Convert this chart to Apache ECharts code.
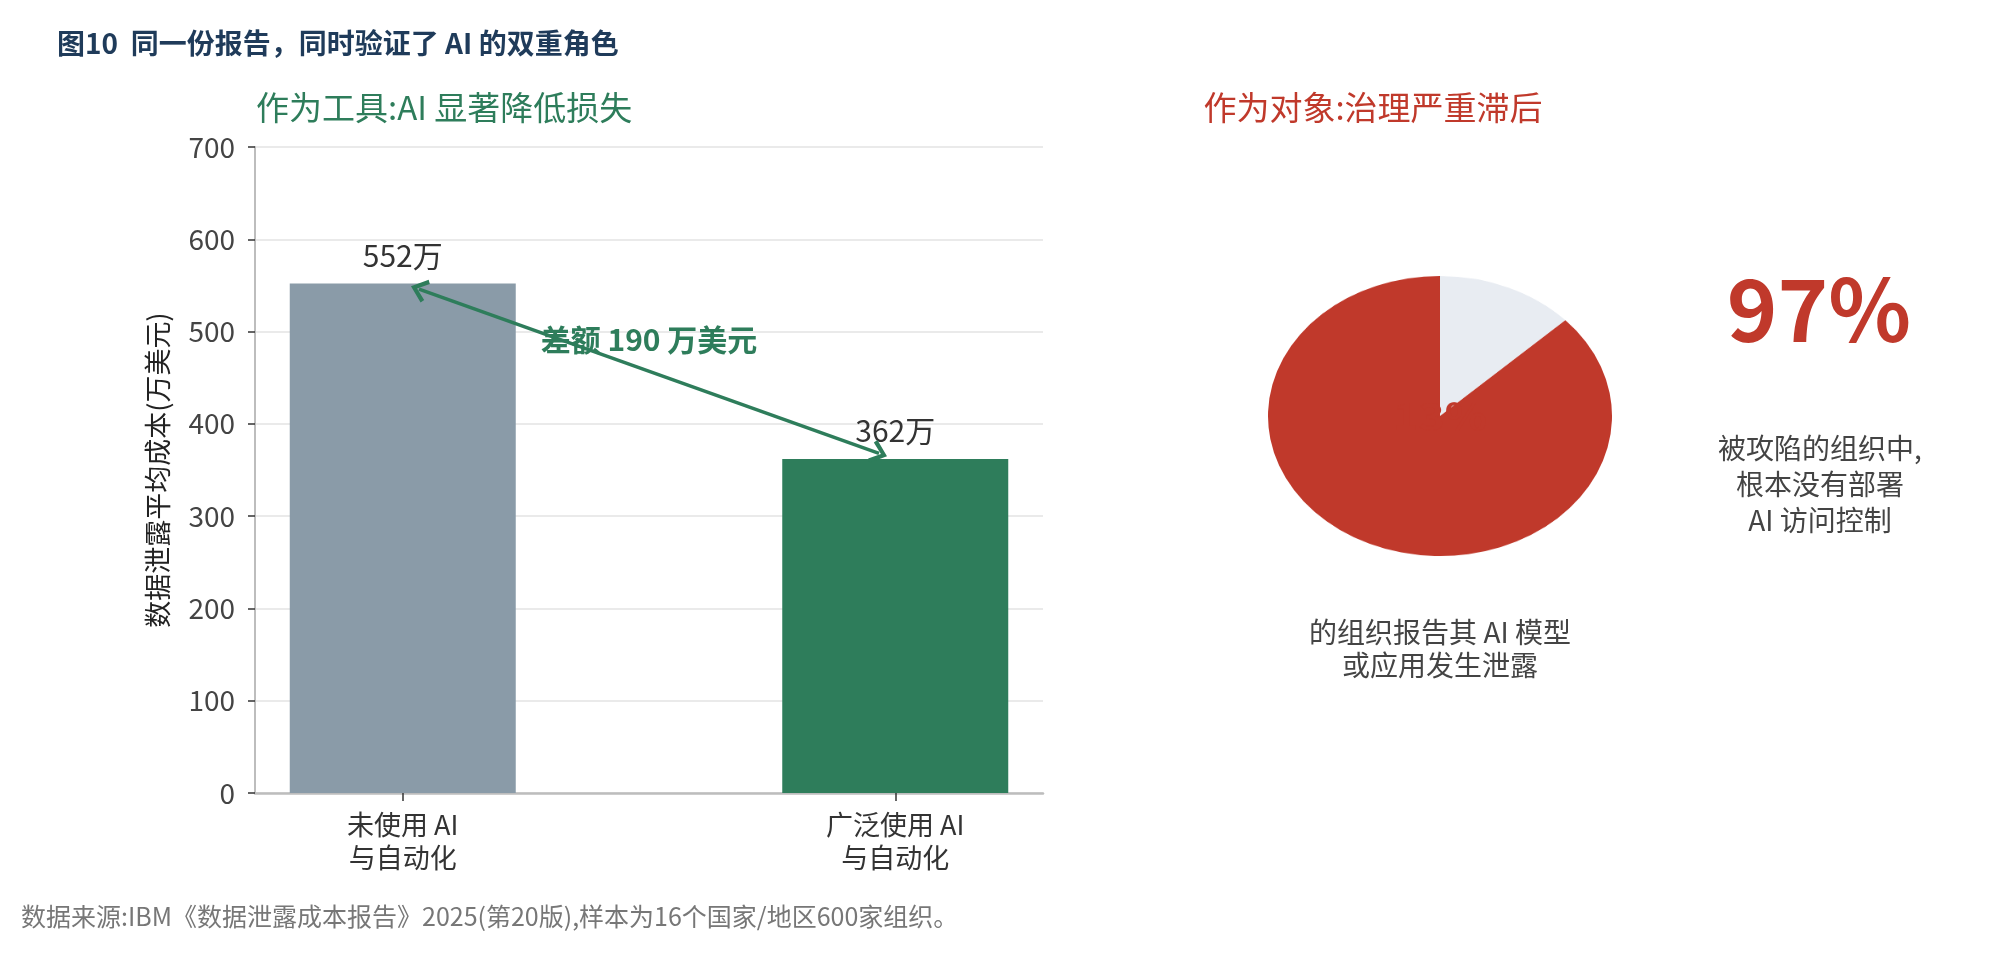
<!DOCTYPE html>
<html>
<head>
<meta charset="utf-8">
<script src="https://cdn.jsdelivr.net/npm/echarts@6/dist/echarts.min.js"></script>
<style>
html, body { margin: 0; padding: 0; background: #fff; }
#main { width: 2011px; height: 953px; }
#pie { position: absolute; left: 1268px; top: 244px; width: 344px; height: 344px; transform: scaleY(0.814); transform-origin: 50% 50%; }
</style>
</head>
<body>
<div id="main"></div>
<div id="pie"></div>
<script>
// 左图：数据泄露平均成本（万美元）
const categories = ['未使用 AI\n与自动化', '广泛使用 AI\n与自动化']
const costValues = [552, 362]
const barColors = ['#8a9ba8', '#2e7d5b']
const yMin = 0, yMax = 700, yInterval = 100

// 右图：AI 模型或应用发生泄露的组织占比
const pieNames = ['AI 模型或应用发生泄露', '其他']
const pieValues = [13, 87]
const pieColors = ['#e8ecf2', '#c0392b']
const noControlShare = '97%'

// 差额箭头两端（数据坐标，箭头符号中心）
const arrowFrom = [0.033, 546]
const arrowTo = [0.967, 368]
const diffLabelAt = [0.5, 491]

const font = 'Noto Sans CJK SC'
const green = '#2e7d5b'
const red = '#c0392b'
// 开口箭头
const arrowHead = 'path://M10,0 L20,12.6 L17,14.8 L10,5.6 L3,14.8 L0,12.6 Z'

const mainChart = echarts.init(document.getElementById('main'))
mainChart.setOption({
    animation: false,
    textStyle: { fontFamily: font },
    grid: { left: 255, right: 968, top: 147, bottom: 160 },
    xAxis: {
        type: 'value',
        min: -0.3,
        max: 1.3,
        splitLine: { show: false },
        axisLine: { onZero: false, lineStyle: { color: '#bdbdbd', width: 2.5 } },
        axisTick: { customValues: [0, 1], length: 8, lineStyle: { color: '#333', width: 1.5 } },
        axisLabel: {
            customValues: [0, 1],
            formatter: v => categories[Math.round(v)],
            fontSize: 27, color: '#333', lineHeight: 33, margin: 15
        }
    },
    yAxis: {
        type: 'value',
        min: yMin, max: yMax, interval: yInterval,
        name: '数据泄露平均成本(万美元)',
        nameLocation: 'middle',
        nameRotate: 90,
        nameGap: 84,
        nameTextStyle: { fontSize: 27, color: '#222' },
        axisLine: { show: true, onZero: false, lineStyle: { color: '#bdbdbd', width: 2 } },
        axisTick: { show: true, length: 7, lineStyle: { color: '#333', width: 1.5 } },
        axisLabel: { fontSize: 28, color: '#444', margin: 20 },
        splitLine: { lineStyle: { color: '#e3e3e3', width: 1.5 } }
    },
    series: [{
        type: 'bar',
        barWidth: 226,
        data: costValues.map((v, i) => ({ value: [i, v], itemStyle: { color: barColors[i] } })),
        label: {
            show: true, position: 'top', distance: 13,
            fontSize: 30, color: '#333',
            formatter: p => p.value[1] + '万'
        },
        markLine: {
            silent: true,
            symbol: [arrowHead, arrowHead],
            symbolSize: [24, 17],
            lineStyle: { color: green, width: 3.5, type: 'solid' },
            label: { show: false },
            data: [[{ coord: arrowFrom }, { coord: arrowTo }]]
        },
        markPoint: {
            silent: true,
            symbol: 'circle',
            symbolSize: 1,
            itemStyle: { color: 'transparent' },
            data: [{
                coord: diffLabelAt,
                label: {
                    show: true, position: 'inside',
                    formatter: '差额 ' + (costValues[0] - costValues[1]) + ' 万美元',
                    fontSize: 30, fontWeight: 'bold', color: green
                }
            }]
        }
    }],
    graphic: [
        { type: 'text', x: 57, y: 43, style: { text: '图10  同一份报告，同时验证了 AI 的双重角色', font: 'bold 28px "Noto Sans CJK SC"', fill: '#1f3b5a', verticalAlign: 'middle' } },
        { type: 'text', x: 256, y: 107, style: { text: '作为工具:AI 显著降低损失', font: '33px "Noto Sans CJK SC"', fill: green, verticalAlign: 'middle' } },
        { type: 'text', x: 1373, y: 107, style: { text: '作为对象:治理严重滞后', font: '33px "Noto Sans CJK SC"', fill: red, align: 'center', verticalAlign: 'middle' } },
        { type: 'text', x: 1819, y: 309, style: { text: noControlShare, font: 'bold 86px "Noto Sans CJK SC"', fill: red, align: 'center', verticalAlign: 'middle' } },
        { type: 'text', x: 1820, y: 484, style: { text: '被攻陷的组织中,\n根本没有部署\nAI 访问控制', font: '28px "Noto Sans CJK SC"', lineHeight: 36, fill: '#444', align: 'center', verticalAlign: 'middle' } },
        { type: 'text', x: 1440, y: 649, style: { text: '的组织报告其 AI 模型\n或应用发生泄露', font: '28px "Noto Sans CJK SC"', lineHeight: 33, fill: '#444', align: 'center', verticalAlign: 'middle' } },
        { type: 'text', x: 21, y: 916, style: { text: '数据来源:IBM《数据泄露成本报告》2025(第20版),样本为16个国家/地区600家组织。', font: '25px "Noto Sans CJK SC"', fill: '#777', verticalAlign: 'middle' } }
    ]
})

const pieChart = echarts.init(document.getElementById('pie'))
pieChart.setOption({
    animation: false,
    series: [{
        type: 'pie',
        radius: '100%',
        center: ['50%', '50%'],
        startAngle: 90,
        clockwise: true,
        silent: true,
        itemStyle: { borderWidth: 0 },
        labelLine: { show: false },
        data: pieValues.map((v, i) => ({ name: pieNames[i], value: v, itemStyle: { color: pieColors[i] } })),
        label: {
            show: true,
            position: 'center',
            formatter: p => p.dataIndex === 0 ? p.value + '%' : '',
            fontFamily: font, fontSize: 44, fontWeight: 'bold', color: red
        }
    }]
})
</script>
</body>
</html>
